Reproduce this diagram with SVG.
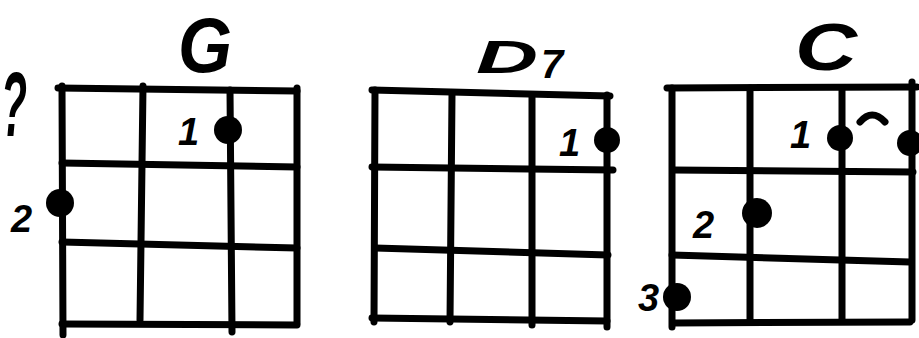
<svg xmlns="http://www.w3.org/2000/svg" width="919" height="338" viewBox="0 0 919 338">
<style>
.g{fill:none;stroke:#000;stroke-width:7;stroke-linecap:round}
.d{fill:#000}
.t{font-family:"Liberation Sans",Arial,sans-serif;font-style:italic;font-weight:bold;fill:#000}
.n{font-family:"Liberation Sans",Arial,sans-serif;font-style:italic;font-weight:bold;fill:#000;font-size:38px}
</style>
<rect width="919" height="338" fill="#fff"/>
<g id="prev-label">
<text class="t" x="1" y="136" font-size="90" textLength="26" lengthAdjust="spacingAndGlyphs">?</text>
</g>
<g id="chord-G">
<text class="t" x="178" y="72" font-size="78" textLength="54" lengthAdjust="spacingAndGlyphs">G</text>
<g class="g">
<path d="M58,88 L297,91"/>
<path d="M62,86 L63,335"/>
<path d="M143,86 L140,320"/>
<path d="M230,90 L232,332"/>
<path d="M297,88 L297,323"/>
<path d="M62,163 L297,167"/>
<path d="M62,242 L297,248"/>
<path d="M62,324 L297,325"/>
</g>
<circle class="d" cx="228" cy="130" r="14"/>
<circle class="d" cx="60" cy="203" r="14"/>
<text class="n" x="178" y="145">1</text>
<text class="n" x="11" y="232">2</text>
</g>
<g id="chord-D7">
<text class="t" x="476" y="73" font-size="46" textLength="62" lengthAdjust="spacingAndGlyphs">D</text>
<text class="t" x="541" y="78" font-size="40">7</text>
<g class="g">
<path d="M372,90 L610,96"/>
<path d="M375,90 L374,322"/>
<path d="M452,94 L450,322"/>
<path d="M532,95 L532,325"/>
<path d="M607,95 L607,327"/>
<path d="M372,167 L613,170"/>
<path d="M375,248 L608,255"/>
<path d="M372,318 L607,321"/>
</g>
<circle class="d" cx="607" cy="140" r="13"/>
<text class="n" x="559" y="156">1</text>
</g>
<g id="chord-C">
<text class="t" x="795" y="70" font-size="66" textLength="62" lengthAdjust="spacingAndGlyphs">C</text>
<g class="g">
<path d="M667,88 L917,87"/>
<path d="M672,88 L672,327"/>
<path d="M750,88 L750,322"/>
<path d="M842,88 L842,320"/>
<path d="M912,82 L912,320"/>
<path d="M673,170 L913,172"/>
<path d="M672,255 L910,262"/>
<path d="M673,323 L910,322"/>
<path d="M860,122 Q872,108 885,122"/>
</g>
<circle class="d" cx="840" cy="138" r="13"/>
<circle class="d" cx="910" cy="143" r="13"/>
<circle class="d" cx="757" cy="213" r="15"/>
<circle class="d" cx="677" cy="297" r="14"/>
<text class="n" x="790" y="148">1</text>
<text class="n" x="693" y="238">2</text>
<text class="n" x="638" y="311" font-size="42">3</text>
</g>
</svg>
